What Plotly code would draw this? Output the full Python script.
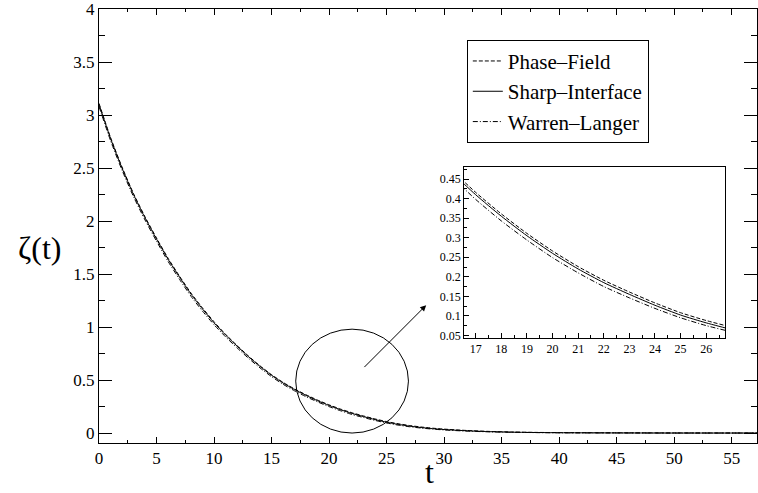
import plotly.graph_objects as go

# ---- data ----
t = [0, 1, 2, 3, 4, 5, 6, 7, 8, 9, 10, 11, 12, 13, 14, 15, 16, 17, 18, 19, 20,
     21, 22, 23, 24, 25, 26, 27, 28, 29, 30, 32, 34, 36, 38, 40, 45, 50, 57.2]

phase_field = [3.11, 2.79, 2.51, 2.26, 2.04, 1.84, 1.65, 1.48, 1.32, 1.18, 1.05,
               0.932, 0.826, 0.726, 0.634, 0.551, 0.478, 0.416, 0.361, 0.311, 0.266,
               0.226, 0.191, 0.161, 0.133, 0.108, 0.088, 0.071, 0.057, 0.046, 0.037,
               0.024, 0.015, 0.009, 0.006, 0.004, 0.002, 0.001, 0.0]

sharp_interface = [3.10, 2.78, 2.50, 2.25, 2.03, 1.83, 1.64, 1.47, 1.31, 1.17, 1.04,
                   0.925, 0.82, 0.72, 0.628, 0.545, 0.472, 0.41, 0.355, 0.305, 0.26,
                   0.22, 0.185, 0.155, 0.127, 0.102, 0.082, 0.065, 0.052, 0.041, 0.033,
                   0.021, 0.013, 0.008, 0.005, 0.003, 0.001, 0.0, 0.0]

warren_langer = [3.08, 2.76, 2.48, 2.23, 2.01, 1.81, 1.62, 1.45, 1.29, 1.15, 1.022,
                 0.908, 0.804, 0.705, 0.614, 0.532, 0.46, 0.398, 0.343, 0.294, 0.249,
                 0.21, 0.175, 0.146, 0.119, 0.095, 0.075, 0.059, 0.047, 0.037, 0.029,
                 0.018, 0.011, 0.007, 0.004, 0.002, 0.001, 0.0, 0.0]

names = ["Phase\u2013Field", "Sharp\u2013Interface", "Warren\u2013Langer"]
dashes = ["4px,2px", "solid", "5px,2px,1px,2px"]
series = [phase_field, sharp_interface, warren_langer]

FONT = "Liberation Serif"

fig = go.Figure()
for name, ys, dash in zip(names, series, dashes):
    fig.add_trace(go.Scatter(x=t, y=ys, mode="lines", name=name,
                             line=dict(color="black", width=1, dash=dash,
                                       shape="spline", smoothing=0.6),
                             xaxis="x", yaxis="y"))
for name, ys, dash in zip(names, series, dashes):
    fig.add_trace(go.Scatter(x=t, y=ys, mode="lines", name=name, showlegend=False,
                             line=dict(color="black", width=1, dash=dash,
                                       shape="spline", smoothing=0.6),
                             xaxis="x2", yaxis="y2"))

axis_common = dict(showgrid=False, zeroline=False, showline=True, linecolor="black",
                   linewidth=1, ticks="inside", tickcolor="black", tickwidth=1)

fig.update_layout(
    width=758, height=493,
    margin=dict(l=99, r=1, t=9, b=50),
    paper_bgcolor="white", plot_bgcolor="white",
    font=dict(family=FONT, color="black"),
    showlegend=True,
    legend=dict(x=0.559, y=0.929, xanchor="left", yanchor="top",
                bordercolor="black", borderwidth=1, bgcolor="white",
                font=dict(family=FONT, size=21, color="black"),
                tracegroupgap=0),
    xaxis=dict(range=[0, 57.2], tick0=0, dtick=5, ticklen=6, mirror="ticks",
               minor=dict(ticks="inside", dtick=2.5, ticklen=3, tickcolor="black"),
               tickfont=dict(family=FONT, size=17), **axis_common),
    yaxis=dict(range=[-0.094, 4.0005], tick0=0, dtick=0.5, ticklen=13, mirror="ticks",
               minor=dict(ticks="inside", dtick=0.25, ticklen=6, tickcolor="black"),
               tickfont=dict(family=FONT, size=17), **axis_common),
    xaxis2=dict(domain=[0.555, 0.952], anchor="y2", range=[16.55, 26.75],
                tick0=0, dtick=1, ticklen=5, mirror=True,
                minor=dict(ticks="inside", dtick=0.5, ticklen=3, tickcolor="black"),
                tickfont=dict(family=FONT, size=12), **axis_common),
    yaxis2=dict(domain=[0.2426, 0.635], anchor="x2", range=[0.044, 0.48],
                tick0=0, dtick=0.05, ticklen=5, mirror=True,
                minor=dict(ticks="inside", dtick=0.025, ticklen=3, tickcolor="black"),
                tickfont=dict(family=FONT, size=12), **axis_common),
)

# zoom circle and arrow
fig.add_shape(type="circle", xref="x", yref="y", x0=17.1, x1=26.9, y0=0.0, y1=0.98,
              line=dict(color="black", width=1))
fig.add_annotation(x=28.44, y=1.206, ax=22.94, ay=0.608, xref="x", yref="y",
                   axref="x", ayref="y", showarrow=True, arrowhead=2, arrowsize=1.2,
                   arrowwidth=1, arrowcolor="black", text="")

# axis titles
fig.add_annotation(text="\u03b6(t)", xref="paper", yref="paper", x=-0.0897, y=0.449,
                   showarrow=False, font=dict(family=FONT, size=32, color="black"),
                   xanchor="center", yanchor="middle")
fig.add_annotation(text="t", xref="paper", yref="paper", x=0.503, y=-0.066,
                   showarrow=False, font=dict(family=FONT, size=32, color="black"),
                   xanchor="center", yanchor="middle")

fig.write_html("out.html")
